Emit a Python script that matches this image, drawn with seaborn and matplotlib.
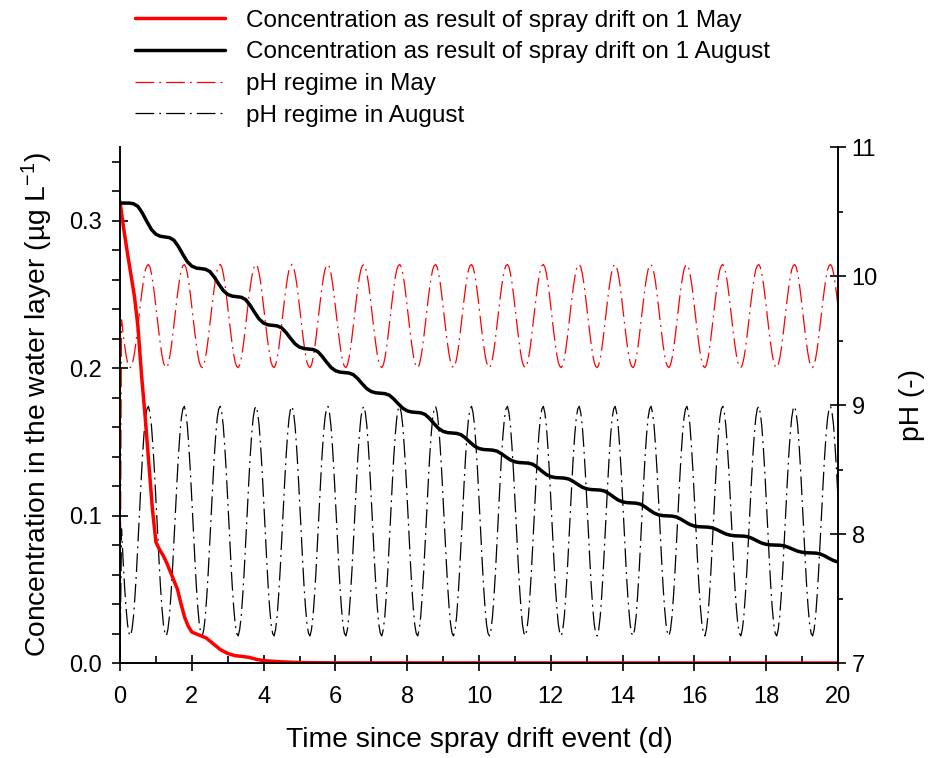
import numpy as np
import pandas as pd
import matplotlib
matplotlib.use("Agg")
import matplotlib.pyplot as plt
import seaborn as sns
from matplotlib.ticker import MultipleLocator

sns.set_style("ticks")
plt.rcParams["font.family"] = ["Liberation Sans", "DejaVu Sans"]
plt.rcParams["mathtext.fontset"] = "custom"
plt.rcParams["mathtext.rm"] = "Liberation Sans"
plt.rcParams["mathtext.it"] = "Liberation Sans:italic"
plt.rcParams["mathtext.bf"] = "Liberation Sans:bold"
for key in ("text.color", "axes.labelcolor", "xtick.color", "ytick.color", "axes.edgecolor"):
    plt.rcParams[key] = "black"

# concentration after spray drift on 1 May
may_days = [0.0, 0.1, 0.2, 0.3, 0.4, 0.5, 0.6, 0.7, 0.8, 0.9, 1.0, 1.1, 1.2, 1.3,
            1.4, 1.5, 1.6, 1.7, 1.8, 1.9, 2.0, 2.2, 2.4, 2.6, 2.8, 3.0, 3.2, 3.4,
            3.6, 3.8, 4.0, 4.5, 5.0, 6.0, 20.0]
may_conc = [0.313, 0.295, 0.279, 0.264, 0.249, 0.228, 0.195, 0.167, 0.136, 0.105,
            0.082, 0.077, 0.073, 0.068, 0.062, 0.056, 0.050, 0.040, 0.031, 0.025,
            0.021, 0.019, 0.017, 0.013, 0.009, 0.0065, 0.005, 0.0045, 0.0038,
            0.0025, 0.0016, 0.0008, 0.0003, 0.0001, 0.0]

# concentration after spray drift on 1 August: level of each daily plateau
aug_plateau = [0.312, 0.289, 0.2675, 0.2485, 0.229, 0.213, 0.197, 0.183, 0.170,
               0.156, 0.1446, 0.1358, 0.1256, 0.1175, 0.1086, 0.0998, 0.0923,
               0.0862, 0.0800, 0.0747, 0.0680]
# part of the day's drop reached at each 1/8 day (negative = tail of previous drop)
drop_shape = [-0.08, -0.02, 0.0, 0.02, 0.10, 0.30, 0.55, 0.78]

# daily pH cycle, hourly values (h = 0..23)
ph_may_day = [9.76, 9.66, 9.56, 9.47, 9.39, 9.33, 9.30, 9.29, 9.31, 9.36, 9.43, 9.52,
              9.62, 9.72, 9.82, 9.91, 9.99, 10.05, 10.08, 10.09, 10.07, 10.02, 9.95, 9.86]
ph_aug_day = [8.27, 8.04, 7.81, 7.60, 7.43, 7.30, 7.23, 7.21, 7.26, 7.36, 7.52, 7.71,
              7.93, 8.16, 8.39, 8.60, 8.77, 8.90, 8.97, 8.99, 8.94, 8.84, 8.68, 8.49]
ph_start = 7.0
n_days = 20

# build August concentration on a 1/8-day grid
aug_t, aug_c = [], []
for k in range(n_days):
    prev_drop = aug_plateau[k - 1] - aug_plateau[k] if k > 0 else 0.0
    drop = aug_plateau[k] - aug_plateau[k + 1]
    for j, f in enumerate(drop_shape):
        aug_t.append(k + j / 8)
        aug_c.append(aug_plateau[k] - f * (prev_drop if f < 0 else drop))
aug_t.append(n_days)
aug_c.append(aug_plateau[-1] + 0.08 * (aug_plateau[-2] - aug_plateau[-1]))

# pH regimes: the daily cycle repeated each day
ph_t = np.arange(n_days * 24 + 1) / 24
ph_may = np.append(np.tile(ph_may_day, n_days), ph_may_day[0])
ph_aug = np.append(np.tile(ph_aug_day, n_days), ph_aug_day[0])
ph_may[0] = ph_start
ph_aug[0] = ph_start

fig = plt.figure(figsize=(9.29, 7.58), dpi=100)
ax = fig.add_axes([0.1292, 0.1253, 0.7729, 0.6807])
ax2 = ax.twinx()

dashdot = (0, (15, 4, 1.5, 4))
sns.lineplot(x=ph_t, y=ph_may, ax=ax2, color="red", lw=0.9, linestyle=dashdot,
             label="pH regime in May", legend=False)
sns.lineplot(x=ph_t, y=ph_aug, ax=ax2, color="black", lw=0.9, linestyle=dashdot,
             label="pH regime in August", legend=False)

sns.lineplot(x=may_days, y=may_conc, ax=ax, color="red", lw=2.5,
             label="Concentration as result of spray drift on 1 May", legend=False)
sns.lineplot(x=aug_t, y=aug_c, ax=ax, color="black", lw=2.5,
             label="Concentration as result of spray drift on 1 August", legend=False)

ax.set_zorder(ax2.get_zorder() + 1)
ax.patch.set_visible(False)

ax.set_xlim(0, 20)
ax.set_ylim(0, 0.35)
ax2.set_ylim(7, 11)
ax.xaxis.set_major_locator(MultipleLocator(2))
ax.xaxis.set_minor_locator(MultipleLocator(1))
ax.yaxis.set_major_locator(MultipleLocator(0.1))
ax.yaxis.set_minor_locator(MultipleLocator(0.02))
ax2.yaxis.set_major_locator(MultipleLocator(1))
ax2.yaxis.set_minor_locator(MultipleLocator(0.5))
ax.yaxis.set_major_formatter(matplotlib.ticker.FormatStrFormatter("%.1f"))

for a in (ax, ax2):
    a.spines["top"].set_visible(False)
    for s in a.spines.values():
        s.set_linewidth(1.2)
    a.tick_params(which="major", direction="inout", length=11.5, width=1.2,
                  labelsize=17, pad=7.5)
ax.tick_params(axis="x", which="major", pad=10.5)
ax.tick_params(axis="x", which="minor", direction="in", length=5, width=1.2)
ax.tick_params(axis="y", which="minor", direction="out", length=5.5, width=1.2)
ax2.tick_params(axis="y", which="major", pad=4)
ax2.tick_params(axis="y", which="minor", direction="out", length=3.5, width=1.2)

ax.set_xlabel("Time since spray drift event (d)", fontsize=20.3, labelpad=14)
ax.set_ylabel("Concentration in the water layer (µg L$^{-1}$)", fontsize=20.3, labelpad=10)
ax2.set_ylabel("pH (-)", fontsize=20.3, labelpad=15)

h1, l1 = ax.get_legend_handles_labels()
h2, l2 = ax2.get_legend_handles_labels()
fig.legend(h1 + h2, l1 + l2, loc="upper left", bbox_to_anchor=(0.135, 1.0),
           frameon=False, fontsize=17.5, handlelength=3.7, handletextpad=0.87,
           labelspacing=0.4, borderaxespad=0.0)

fig.savefig("out.png", dpi=100)
